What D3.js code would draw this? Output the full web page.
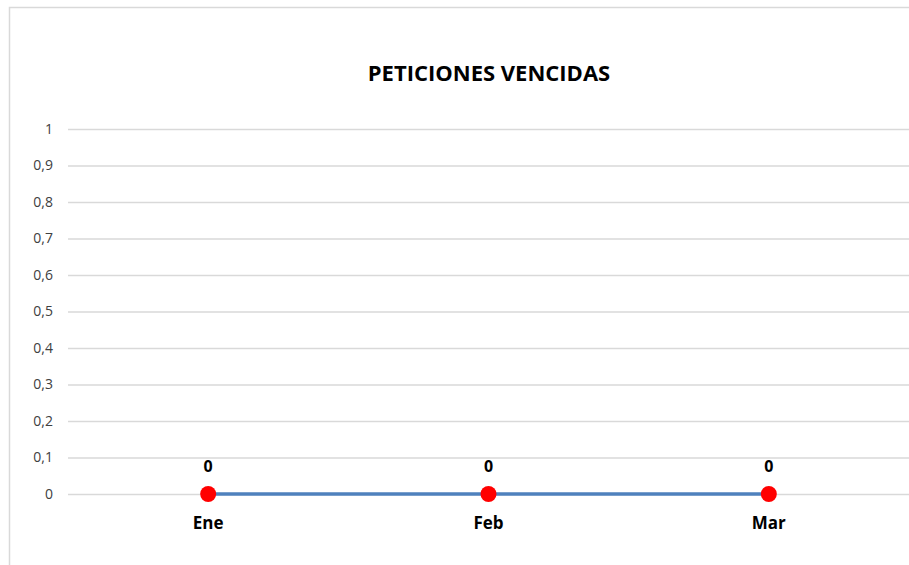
<!DOCTYPE html>
<html><head><meta charset="utf-8">
<script src="https://cdn.jsdelivr.net/npm/d3@7"></script>
<style>body{margin:0;background:#fff}svg{display:block}text{font-family:"Open Sans","Liberation Sans",sans-serif}</style>
</head><body><svg id="c" width="909" height="565"></svg>
<script>
const title = "PETICIONES VENCIDAS";
const categories = ["Ene", "Feb", "Mar"];
const values = [0, 0, 0];
const yTicks = [0, 0.1, 0.2, 0.3, 0.4, 0.5, 0.6, 0.7, 0.8, 0.9, 1];

const svg = d3.select("#c");
svg.append("rect").attr("x", 9.5).attr("y", 7.5).attr("width", 940).attr("height", 600)
  .attr("fill", "#fff").attr("stroke", "#d9d9d9").attr("stroke-width", 1.5);

const x = d3.scaleBand().domain(categories).range([68, 909]);
const y = d3.scaleLinear().domain([0, 1]).range([494, 129]);

svg.append("text").attr("x", 489).attr("y", 81).attr("text-anchor", "middle")
  .attr("font-size", 22).attr("font-weight", "bold").attr("fill", "#000").text(title);

const fmt = d => String(+d.toFixed(1)).replace(".", ",");
const gy = svg.append("g").attr("transform", "translate(68,0)")
  .call(d3.axisLeft(y).tickValues(yTicks).tickFormat(fmt).tickSize(-841).tickPadding(15));
gy.select(".domain").remove();
gy.selectAll(".tick line").attr("stroke", "#d9d9d9").attr("stroke-width", 1.3);
gy.selectAll(".tick text").attr("font-size", 14).attr("fill", "#404040")
  .style("font-family", '"Open Sans","Liberation Sans",sans-serif');

const line = d3.line().x((d, i) => x(categories[i]) + x.bandwidth() / 2).y(d => y(d));
svg.append("path").datum(values).attr("d", line).attr("fill", "none")
  .attr("stroke", "#4f81bd").attr("stroke-width", 3.5);

svg.selectAll("circle.pt").data(values).join("circle").attr("class", "pt")
  .attr("cx", (d, i) => x(categories[i]) + x.bandwidth() / 2).attr("cy", d => y(d))
  .attr("r", 8).attr("fill", "#ff0000");

svg.selectAll("text.lbl").data(values).join("text").attr("class", "lbl")
  .attr("x", (d, i) => x(categories[i]) + x.bandwidth() / 2).attr("y", d => y(d) - 22)
  .attr("text-anchor", "middle").attr("font-size", 16).attr("font-weight", "bold")
  .attr("fill", "#000").text(d => fmt(d));

svg.selectAll("text.cat").data(categories).join("text").attr("class", "cat")
  .attr("x", d => x(d) + x.bandwidth() / 2).attr("y", 529)
  .attr("text-anchor", "middle").attr("font-size", 17).attr("font-weight", "bold")
  .attr("fill", "#000").text(d => d);
</script></body></html>
